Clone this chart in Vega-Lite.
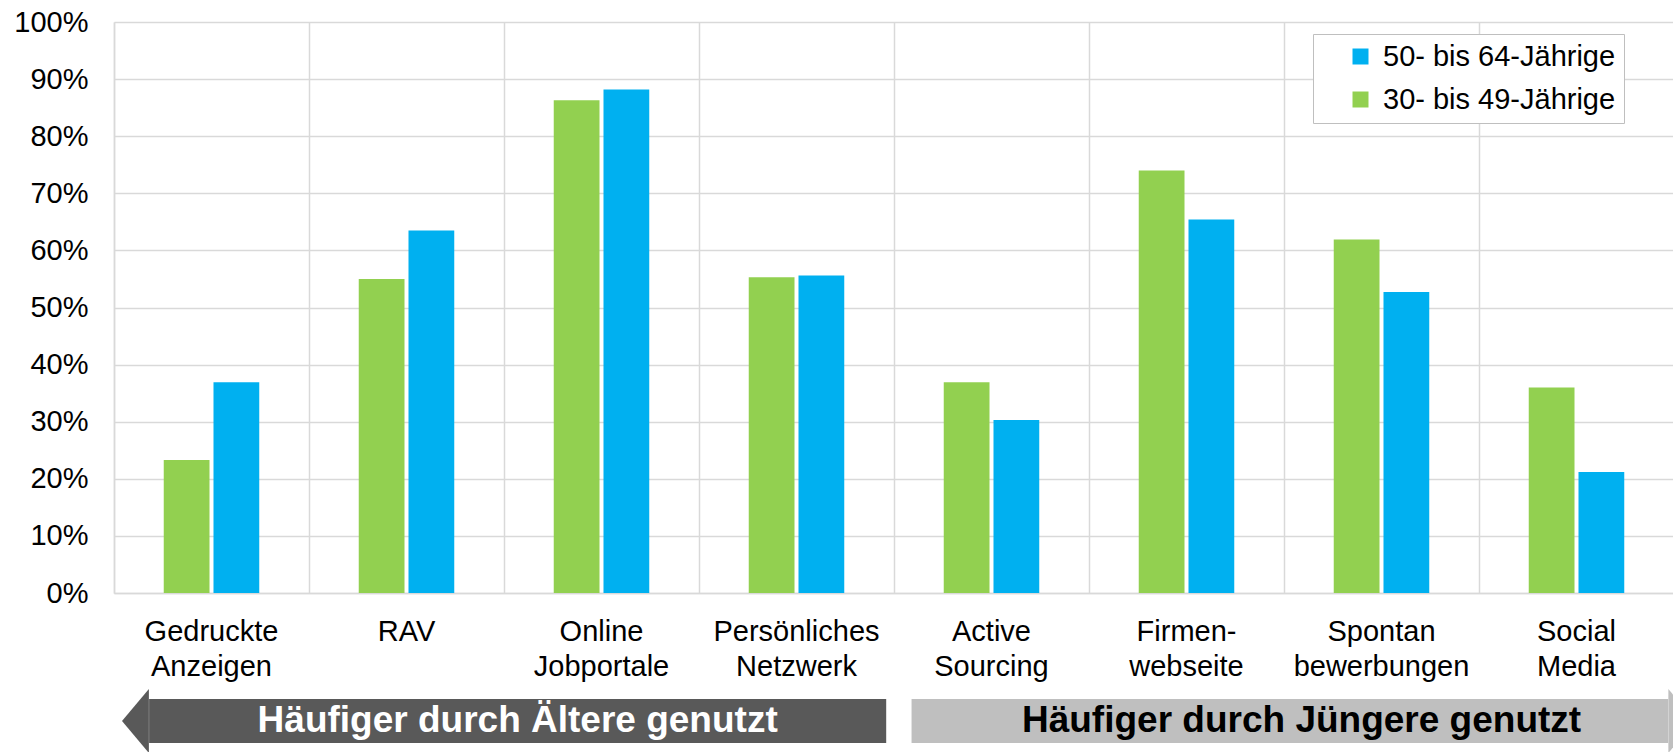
{
  "$schema": "https://vega.github.io/schema/vega-lite/v6.json",
  "padding": {"left": 13, "top": 8, "right": 0, "bottom": 0},
  "background": "white",
  "config": {
    "view": {"stroke": null},
    "font": "Liberation Sans",
    "axis": {"labelFont": "Liberation Sans", "labelColor": "#000000"},
    "legend": {"labelFont": "Liberation Sans", "labelColor": "#000000"}
  },
  "datasets": {
    "bars": [
      {"Kanal": "Gedruckte Anzeigen", "Gruppe": "30- bis 49-Jährige", "Anteil": 0.233},
      {"Kanal": "Gedruckte Anzeigen", "Gruppe": "50- bis 64-Jährige", "Anteil": 0.369},
      {"Kanal": "RAV", "Gruppe": "30- bis 49-Jährige", "Anteil": 0.550},
      {"Kanal": "RAV", "Gruppe": "50- bis 64-Jährige", "Anteil": 0.635},
      {"Kanal": "Online Jobportale", "Gruppe": "30- bis 49-Jährige", "Anteil": 0.863},
      {"Kanal": "Online Jobportale", "Gruppe": "50- bis 64-Jährige", "Anteil": 0.882},
      {"Kanal": "Persönliches Netzwerk", "Gruppe": "30- bis 49-Jährige", "Anteil": 0.553},
      {"Kanal": "Persönliches Netzwerk", "Gruppe": "50- bis 64-Jährige", "Anteil": 0.556},
      {"Kanal": "Active Sourcing", "Gruppe": "30- bis 49-Jährige", "Anteil": 0.369},
      {"Kanal": "Active Sourcing", "Gruppe": "50- bis 64-Jährige", "Anteil": 0.303},
      {"Kanal": "Firmen- webseite", "Gruppe": "30- bis 49-Jährige", "Anteil": 0.740},
      {"Kanal": "Firmen- webseite", "Gruppe": "50- bis 64-Jährige", "Anteil": 0.654},
      {"Kanal": "Spontan bewerbungen", "Gruppe": "30- bis 49-Jährige", "Anteil": 0.619},
      {"Kanal": "Spontan bewerbungen", "Gruppe": "50- bis 64-Jährige", "Anteil": 0.527},
      {"Kanal": "Social Media", "Gruppe": "30- bis 49-Jährige", "Anteil": 0.360},
      {"Kanal": "Social Media", "Gruppe": "50- bis 64-Jährige", "Anteil": 0.212}
    ],
    "arrows": [
      {"Pfeil": "Ältere", "Text": "Häufiger durch Ältere genutzt", "von": 0.18, "bis": 3.96, "Spitze": 0.11, "Mitte": 2.07},
      {"Pfeil": "Jüngere", "Text": "Häufiger durch Jüngere genutzt", "von": 4.09, "bis": 7.97, "Spitze": 8.04, "Mitte": 6.09}
    ]
  },
  "vconcat": [
    {
      "width": 1560,
      "height": 571,
      "data": {"name": "bars"},
      "mark": {"type": "bar"},
      "encoding": {
        "x": {
          "field": "Kanal",
          "type": "nominal",
          "sort": null,
          "scale": {"paddingInner": 0, "paddingOuter": 0},
          "axis": {
            "title": null,
            "labelExpr": "split(datum.label, ' ')",
            "labelAngle": 0,
            "labelFontSize": 29,
            "labelLineHeight": 35,
            "labelPadding": 24,
            "ticks": false,
            "grid": true,
            "bandPosition": 0,
            "gridColor": "#d9d9d9",
            "gridWidth": 1.5,
            "domainColor": "#d9d9d9",
            "domainWidth": 1.5
          }
        },
        "xOffset": {
          "field": "Gruppe",
          "type": "nominal",
          "sort": ["30- bis 49-Jährige", "50- bis 64-Jährige"],
          "scale": {"paddingInner": 0.08, "paddingOuter": 1.0}
        },
        "y": {
          "field": "Anteil",
          "type": "quantitative",
          "scale": {"domain": [0, 1], "nice": false},
          "axis": {
            "title": null,
            "format": ".0%",
            "values": [0, 0.1, 0.2, 0.3, 0.4, 0.5, 0.6, 0.7, 0.8, 0.9, 1.0],
            "labelFontSize": 29,
            "labelPadding": 26,
            "ticks": false,
            "grid": true,
            "gridColor": "#d9d9d9",
            "gridWidth": 1.5,
            "domainColor": "#d9d9d9",
            "domainWidth": 1.5
          }
        },
        "color": {
          "field": "Gruppe",
          "type": "nominal",
          "scale": {"domain": ["50- bis 64-Jährige", "30- bis 49-Jährige"], "range": ["#00B0F0", "#92D050"]},
          "legend": {
            "title": null,
            "orient": "none",
            "legendX": 1199,
            "legendY": 12,
            "direction": "vertical",
            "symbolType": "square",
            "symbolSize": 256,
            "symbolStrokeWidth": 0,
            "symbolOffset": 25,
            "labelFontSize": 29,
            "labelLimit": 400,
            "labelOffset": 8,
            "rowPadding": 13,
            "padding": 8,
            "strokeColor": "#bfbfbf",
            "fillColor": "#ffffff"
          }
        }
      }
    },
    {
      "width": 1560,
      "height": 64,
      "data": {"name": "arrows"},
      "layer": [
        {
          "mark": {"type": "rect"},
          "encoding": {
            "x": {"field": "von", "type": "quantitative", "scale": {"domain": [0, 8], "nice": false, "zero": false}, "axis": null},
            "x2": {"field": "bis"},
            "y": {"datum": 0.156, "type": "quantitative", "scale": {"domain": [0, 1], "nice": false}, "axis": null},
            "y2": {"datum": 0.844},
            "color": {"field": "Pfeil", "type": "nominal", "scale": {"domain": ["Ältere", "Jüngere"], "range": ["#595959", "#BFBFBF"]}, "legend": null}
          }
        },
        {
          "mark": {"type": "point", "filled": true, "opacity": 1, "size": 4096, "clip": true},
          "encoding": {
            "x": {"field": "Spitze", "type": "quantitative"},
            "y": {"datum": 0.5, "type": "quantitative"},
            "shape": {"field": "Pfeil", "type": "nominal", "scale": {"domain": ["Ältere", "Jüngere"], "range": ["M0.42,-1L-0.42,0L0.42,1Z", "M-0.42,-1L0.42,0L-0.42,1Z"]}, "legend": null},
            "color": {"field": "Pfeil", "type": "nominal", "scale": {"domain": ["Ältere", "Jüngere"], "range": ["#595959", "#BFBFBF"]}, "legend": null}
          }
        },
        {
          "mark": {"type": "text", "font": "Liberation Sans", "fontWeight": "bold", "fontSize": 37, "baseline": "middle", "align": "center"},
          "encoding": {
            "x": {"field": "Mitte", "type": "quantitative"},
            "y": {"datum": 0.5, "type": "quantitative"},
            "text": {"field": "Text"},
            "color": {"field": "Pfeil", "type": "nominal", "scale": {"domain": ["Ältere", "Jüngere"], "range": ["#ffffff", "#000000"]}, "legend": null}
          }
        }
      ],
      "resolve": {"scale": {"color": "independent"}}
    }
  ],
  "spacing": 8
}
